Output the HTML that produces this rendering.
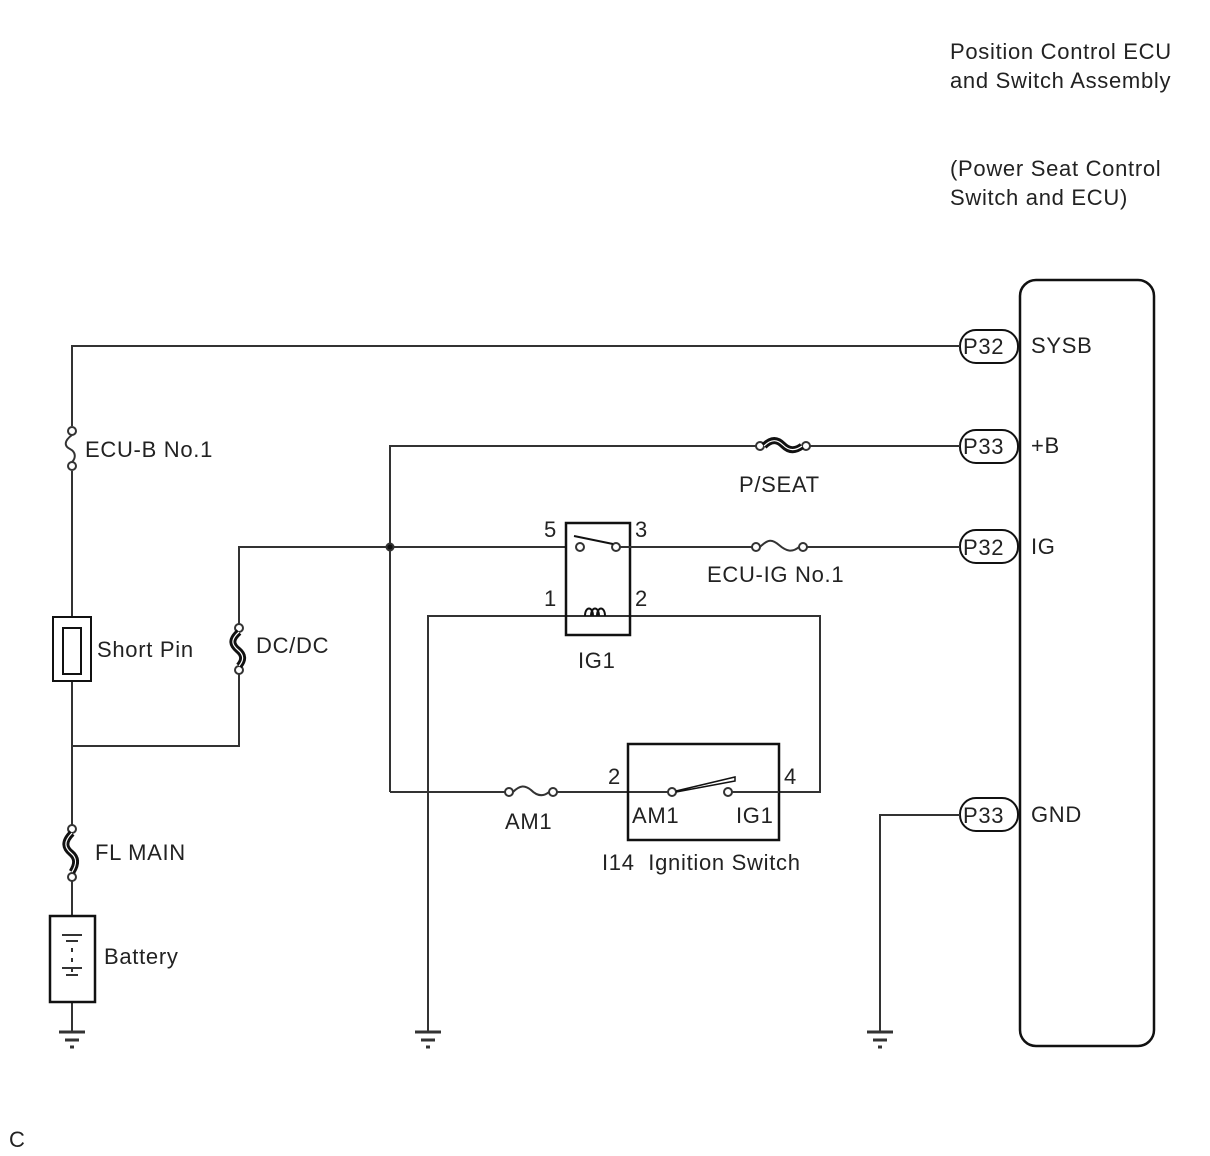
<!DOCTYPE html>
<html><head><meta charset="utf-8"><style>
html,body{margin:0;padding:0;background:#fff;}
svg{display:block;}
text{font-family:"Liberation Sans",Arial,sans-serif;font-size:22px;letter-spacing:0.7px;fill:#222;}
</style></head><body>
<svg width="1210" height="1156" viewBox="0 0 1210 1156" xmlns="http://www.w3.org/2000/svg">
<g fill="none" stroke="#333" stroke-width="2">
<rect x="1020" y="280" width="134" height="766" rx="16" stroke="#111" stroke-width="2.5"/>
<rect x="960" y="330" width="58" height="33" rx="16" stroke="#111"/>
<rect x="960" y="430" width="58" height="33" rx="16" stroke="#111"/>
<rect x="960" y="530" width="58" height="33" rx="16" stroke="#111"/>
<rect x="960" y="798" width="58" height="33" rx="16" stroke="#111"/>
<path d="M960 346 H72 V426"/>
<path d="M72 471 V617"/>
<path d="M72 681 V829"/>
<path d="M72 877 V916"/>
<path d="M72 1002 V1032"/>
<circle cx="72" cy="431" r="4" fill="#fff"/>
<circle cx="72" cy="466" r="4" fill="#fff"/>
<path d="M72 435 C64 441,64 446,70 449 C76 452,76 458,72 462"/>
<rect x="53" y="617" width="38" height="64" stroke="#111"/>
<rect x="63" y="628" width="18" height="46" stroke="#111"/>
<path d="M72 746 H239 V670"/>
<path d="M239 632 V547 H566"/>
<circle cx="239" cy="628" r="4" fill="#fff"/>
<circle cx="239" cy="670" r="4" fill="#fff"/>
<path d="M239 632 C230 640,232 645,238 650 C244 655,244 660,239 666" stroke="#111" stroke-width="7"/>
<path d="M239 632 C230 640,232 645,238 650 C244 655,244 660,239 666" stroke="#fff" stroke-width="1.2"/>
<circle cx="72" cy="829" r="4" fill="#fff"/>
<circle cx="72" cy="877" r="4" fill="#fff"/>
<path d="M72 833 C63 842,65 848,71 853 C77 858,77 864,72 872" stroke="#111" stroke-width="7"/>
<path d="M72 833 C63 842,65 848,71 853 C77 858,77 864,72 872" stroke="#fff" stroke-width="1.2"/>
<rect x="50" y="916" width="45" height="86" stroke="#111" stroke-width="2.5"/>
<path d="M62 935 H82 M66 941 H78 M72 948 V952 M72 958 V962 M72 968 V972 M62 968 H82 M66 975 H78" stroke-width="2"/>
<path d="M59 1032 H85 M65 1040 H79 M70 1047 H74" stroke-width="3"/>
<path d="M428 1032 V616 H820 V792 H779"/>
<path d="M415 1032 H441 M421 1040 H435 M426 1047 H430" stroke-width="3"/>
<path d="M880 1032 V815 H960"/>
<path d="M867 1032 H893 M873 1040 H887 M878 1047 H882" stroke-width="3"/>
<path d="M390 792 V446 H756"/>
<path d="M810 446 H960"/>
<circle cx="760" cy="446" r="4" fill="#fff"/>
<circle cx="806" cy="446" r="4" fill="#fff"/>
<path d="M764 446 C772 438,778 440,783 445 C788 450,794 452,802 446" stroke="#111" stroke-width="7"/>
<path d="M764 446 C772 438,778 440,783 445 C788 450,794 452,802 446" stroke="#fff" stroke-width="1.2"/>
<circle cx="390" cy="547" r="3.5" fill="#111"/>
<rect x="566" y="523" width="64" height="112" stroke="#111" stroke-width="2.5"/>
<circle cx="580" cy="547" r="4" fill="#fff"/>
<circle cx="616" cy="547" r="4" fill="#fff"/>
<path d="M574 536 L613 544" stroke="#111"/>
<path d="M620 547 H752"/>
<circle cx="756" cy="547" r="4" fill="#fff"/>
<circle cx="803" cy="547" r="4" fill="#fff"/>
<path d="M760 547 C768 539,772 539,779 545 C786 551,792 553,799 547"/>
<path d="M807 547 H960"/>
<path d="M585 616 C585 606,593 606,593 616 M591 616 C591 606,599 606,599 616 M597 616 C597 606,605 606,605 616" stroke="#111"/>
<path d="M390 792 H505"/>
<circle cx="509" cy="792" r="4" fill="#fff"/>
<circle cx="553" cy="792" r="4" fill="#fff"/>
<path d="M513 792 C520 785,525 785,531 790 C537 796,543 797,549 792"/>
<path d="M557 792 H668"/>
<rect x="628" y="744" width="151" height="96" stroke="#111" stroke-width="2.5"/>
<circle cx="672" cy="792" r="4" fill="#fff"/>
<circle cx="728" cy="792" r="4" fill="#fff"/>
<path d="M676 791 L735 777 L735 781 L676 792" stroke="#111" stroke-width="1.5"/>
<path d="M732 792 H779"/>
</g>
<g>
<text x="950" y="59">Position Control ECU</text>
<text x="950" y="88">and Switch Assembly</text>
<text x="950" y="176">(Power Seat Control</text>
<text x="950" y="205">Switch and ECU)</text>
<text x="963" y="354" font-size="20" letter-spacing="0">P32</text>
<text x="963" y="454" font-size="20" letter-spacing="0">P33</text>
<text x="963" y="555" font-size="20" letter-spacing="0">P32</text>
<text x="963" y="823" font-size="20" letter-spacing="0">P33</text>
<text x="1031" y="353">SYSB</text>
<text x="1031" y="453">+B</text>
<text x="1031" y="554">IG</text>
<text x="1031" y="822">GND</text>
<text x="85" y="457">ECU-B No.1</text>
<text x="97" y="657">Short Pin</text>
<text x="256" y="653">DC/DC</text>
<text x="95" y="860">FL MAIN</text>
<text x="104" y="964">Battery</text>
<text x="739" y="492">P/SEAT</text>
<text x="707" y="582">ECU-IG No.1</text>
<text x="544" y="537">5</text>
<text x="635" y="537">3</text>
<text x="544" y="606">1</text>
<text x="635" y="606">2</text>
<text x="578" y="668">IG1</text>
<text x="608" y="784">2</text>
<text x="784" y="784">4</text>
<text x="632" y="823">AM1</text>
<text x="736" y="823">IG1</text>
<text x="505" y="829">AM1</text>
<text x="602" y="870">I14&#160; Ignition Switch</text>
<text x="9" y="1147" font-size="18" letter-spacing="0">C</text>
</g>
</svg>
</body></html>
